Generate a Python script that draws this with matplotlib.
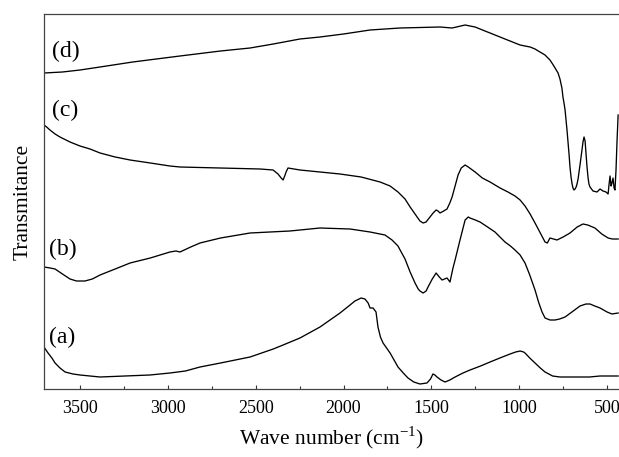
import matplotlib
matplotlib.use("Agg")
import matplotlib.pyplot as plt
import numpy as np

plt.rcParams['font.family'] = ['Liberation Serif', 'DejaVu Serif']
plt.rcParams['mathtext.fontset'] = 'custom'
plt.rcParams['mathtext.rm'] = 'Liberation Serif'

# Wavenumber (cm-1) and transmittance (arbitrary, offset) for each spectrum
wn_d = [3705, 3600, 3500, 3386, 3200, 2931, 2700, 2532, 2400, 2248, 2134, 2000, 1849, 1678, 1451, 1382,
        1308, 1280, 1251, 1223, 1195, 1166, 1138, 1109, 1081, 1052, 1024, 995, 967, 938, 910, 882,
        853, 825, 810, 796, 779, 768, 757, 751, 745, 739, 728, 716, 711, 705, 699,
        694, 688, 682, 676, 671, 665, 654, 642, 637, 631, 625, 620, 614, 608, 603, 597, 580, 557,
        540, 523, 506, 494, 489, 483, 477, 472, 466, 460, 455, 449, 443, 437]
tr_d = [316, 317, 319, 322, 327, 333, 338, 341, 345, 350, 352, 355, 359, 361, 362, 361,
        364, 363, 362, 360, 358, 356, 354, 352, 350, 348, 346, 344, 343, 342, 340, 337,
        334, 329, 325, 321, 316, 310, 301, 292, 286, 279, 259, 234, 222, 212, 205,
        201, 199, 200, 202, 205, 210, 224, 240, 247, 252, 248, 236, 222, 211, 205, 202, 198, 197,
        200, 198, 197, 195, 204, 213, 203, 206, 211, 201, 199, 219, 249, 274]

wn_c = [3705, 3690, 3671, 3642, 3614, 3557, 3500, 3443, 3386, 3300, 3215, 3100, 2988, 2931, 2703, 2475,
        2401, 2373, 2355, 2344, 2335, 2327, 2316, 2248, 2020, 1900, 1792, 1735, 1690, 1650, 1621, 1593,
        1565, 1547, 1530, 1508, 1490, 1473, 1462, 1451, 1430, 1411, 1395, 1382, 1365, 1348, 1330, 1308,
        1290, 1251, 1210, 1166, 1109, 1064, 1024, 995, 967, 938, 910, 880, 853, 840, 825, 805,
        785, 750, 711, 670, 637, 610, 569, 530, 494, 470, 437]
tr_c = [264, 262, 259, 255, 252, 247, 243, 240, 236, 232, 229, 226, 223, 222, 221, 220,
        219, 215, 211, 209, 213, 217, 221, 219, 215, 212, 207, 203, 197, 190, 182, 175,
        168, 166, 167, 172, 176, 179, 178, 176, 178, 180, 186, 192, 203, 214, 221, 224,
        222, 217, 211, 207, 201, 197, 193, 189, 183, 175, 166, 156, 147, 146, 151, 150,
        149, 152, 156, 162, 165, 164, 161, 155, 151, 150, 150]

wn_b = [3705, 3670, 3642, 3600, 3557, 3520, 3472, 3430, 3386, 3300, 3215, 3100, 2988, 2954, 2931, 2870,
        2817, 2700, 2532, 2305, 2134, 1963, 1849, 1764, 1724, 1690, 1678, 1650, 1621, 1593, 1575, 1565,
        1547, 1530, 1519, 1495, 1473, 1455, 1439, 1411, 1394, 1388, 1377, 1365, 1337, 1308, 1290, 1280,
        1250, 1223, 1180, 1138, 1081, 1050, 1024, 995, 967, 940, 910, 890, 870, 853, 825, 796,
        770, 739, 700, 654, 620, 597, 570, 540, 500, 472, 437]
tr_b = [122, 121, 120, 115, 110, 108, 108, 110, 114, 120, 126, 131, 137, 138, 137, 142,
        146, 151, 156, 158, 161, 160, 157, 154, 149, 143, 139, 130, 117, 106, 100, 98,
        96, 98, 102, 110, 116, 112, 109, 111, 107, 112, 121, 129, 149, 169, 172, 171,
        169, 167, 162, 157, 147, 143, 139, 134, 126, 114, 99, 87, 77, 71, 69, 69,
        70, 72, 77, 83, 85, 85, 83, 81, 77, 75, 76]

wn_a = [3705, 3690, 3682, 3660, 3642, 3614, 3585, 3540, 3500, 3386, 3102, 2988, 2900, 2817, 2700, 2532,
        2400, 2344, 2248, 2134, 2020, 1970, 1935, 1900, 1878, 1860, 1849, 1832, 1815, 1804, 1790, 1775,
        1735, 1690, 1660, 1633, 1600, 1565, 1525, 1505, 1491, 1480, 1468, 1445, 1422, 1395, 1365, 1320,
        1280, 1220, 1166, 1110, 1052, 1020, 995, 975, 967, 940, 910, 880, 853, 810, 768, 700,
        654, 600, 540, 437]
tr_a = [42, 38, 36, 31, 26, 21, 17, 15, 14, 12, 14, 16, 18, 22, 26, 32,
        40, 44, 51, 62, 76, 83, 88, 91, 90, 86, 81, 81, 77, 62, 52, 46,
        36, 22, 16, 11, 7, 5, 6, 10, 15, 14, 12, 9, 7, 9, 12, 16,
        19, 23, 27, 31, 35, 37, 38, 37, 36, 31, 26, 21, 17, 13, 12, 12,
        12, 12, 13, 13]

labels = ['(a)', '(b)', '(c)', '(d)']
label_wn = [3676, 3676, 3659, 3659]
label_tr = [52, 140, 279, 338]

fig = plt.figure(figsize=(6.19, 4.57), dpi=100)
ax = fig.add_axes([44/619, 68/457, 1 - 44/619, (389-14)/457])

for wn, tr in [(wn_a, tr_a), (wn_b, tr_b), (wn_c, tr_c), (wn_d, tr_d)]:
    ax.plot(wn, tr, color='black', lw=0.95, solid_joinstyle='round')

for lab, x, y in zip(labels, label_wn, label_tr):
    ax.text(x, y, lab, ha='left', va='center', fontsize=17)

ax.set_xlim(3705, 432)
ax.set_ylim(0, 375)
ax.set_xticks([3500, 3000, 2500, 2000, 1500, 1000, 500])
ax.set_xticks(np.arange(3250, 400, -500), minor=True)
ax.set_yticks([])
ax.tick_params(axis='x', which='major', direction='in', length=3, width=0.8, labelsize=13, pad=8, color='#333333')
ax.tick_params(axis='x', which='minor', direction='in', length=2, width=0.8, color='#333333')
for s in ['top', 'left', 'bottom']:
    ax.spines[s].set_color('#444444')
    ax.spines[s].set_linewidth(0.9)
ax.spines['right'].set_visible(False)

ax.set_xlabel('Wave number (cm$^{\\mathregular{-1}}$)', fontsize=15.5, labelpad=5)
ax.set_ylabel('Transmitance', fontsize=15.5, labelpad=8)

fig.savefig('out.png', dpi=100)
